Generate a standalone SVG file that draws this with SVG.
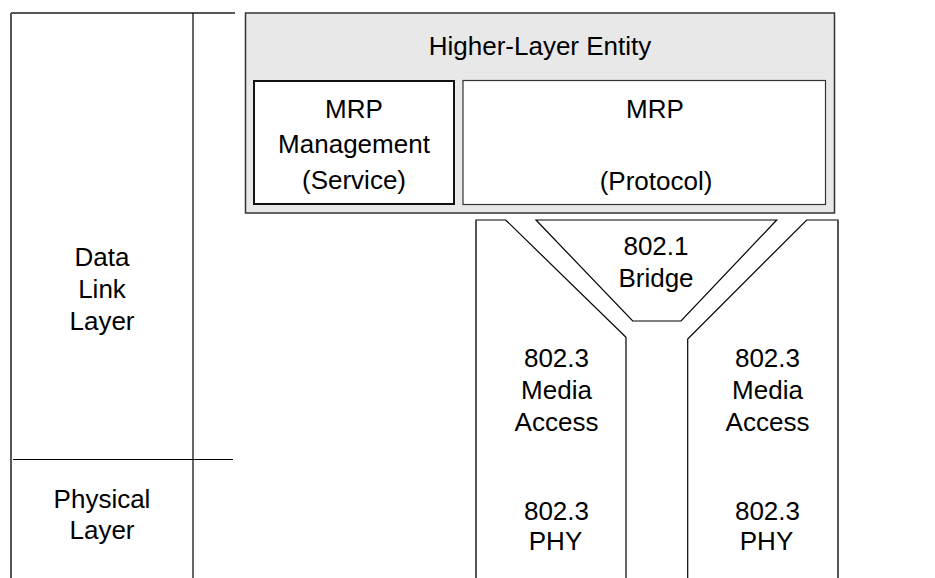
<svg xmlns="http://www.w3.org/2000/svg" width="935" height="578" viewBox="0 0 935 578">
<style>
text{font-family:"Liberation Sans",Arial,sans-serif;font-size:26px;fill:#000;text-anchor:middle}
.frame{fill:none;stroke:#555;stroke-width:2}
.thin{fill:none;stroke:#000;stroke-width:1.2}
.col{fill:#fff;stroke:#000;stroke-width:1.2}
.colouter{fill:none;stroke:#555;stroke-width:2}
</style>
<rect width="935" height="578" fill="#fff"/>
<g id="layers">
<line class="frame" x1="11" y1="13" x2="235" y2="13"/>
<line class="frame" x1="11" y1="13" x2="11" y2="578"/>
<line class="thin" x1="193" y1="13" x2="193" y2="578"/>
<line class="thin" x1="13" y1="459.5" x2="233" y2="459.5"/>
</g>
<g id="data-link-layer">
<text x="102" y="266">Data</text>
<text x="102" y="298">Link</text>
<text x="102" y="330">Layer</text>
</g>
<g id="physical-layer">
<text x="102" y="508">Physical</text>
<text x="102" y="539">Layer</text>
</g>
<g id="higher-layer-entity">
<rect x="245.5" y="13" width="589" height="200" fill="#e8e8e8" stroke="#333" stroke-width="1.5"/>
<text x="540" y="54.5">Higher-Layer Entity</text>
</g>
<g id="mrp-management">
<rect x="254" y="81" width="200" height="123" fill="#fff" stroke="#111" stroke-width="2"/>
<text x="354" y="117.5">MRP</text>
<text x="354" y="153">Management</text>
<text x="354" y="188.5">(Service)</text>
</g>
<g id="mrp-protocol">
<rect x="463" y="80.5" width="362.5" height="124" fill="#fff" stroke="#333" stroke-width="1.2"/>
<text x="655" y="117.5">MRP</text>
<text x="656" y="190">(Protocol)</text>
</g>
<g id="bridge">
<polygon class="col" points="536,220 776.7,220 681,321 632.7,321"/>
<text x="656" y="255">802.1</text>
<text x="656" y="287">Bridge</text>
</g>
<g id="left-port">
<path class="col" d="M476,578 V220 H505.7 L626,337.3 V578"/>
<line class="colouter" x1="476" y1="220" x2="476" y2="578"/>
<text x="556.5" y="367">802.3</text>
<text x="556.5" y="399">Media</text>
<text x="556.5" y="431">Access</text>
<text x="556.5" y="520">802.3</text>
<text x="555.5" y="550">PHY</text>
</g>
<g id="right-port">
<path class="col" d="M838,578 V220 H806.7 L687.7,339 V578"/>
<line class="colouter" x1="838" y1="220" x2="838" y2="578"/>
<text x="767.5" y="367">802.3</text>
<text x="767.5" y="399">Media</text>
<text x="767.5" y="431">Access</text>
<text x="767.5" y="520">802.3</text>
<text x="766.5" y="550">PHY</text>
</g>
<g id="connectors"></g>
</svg>
